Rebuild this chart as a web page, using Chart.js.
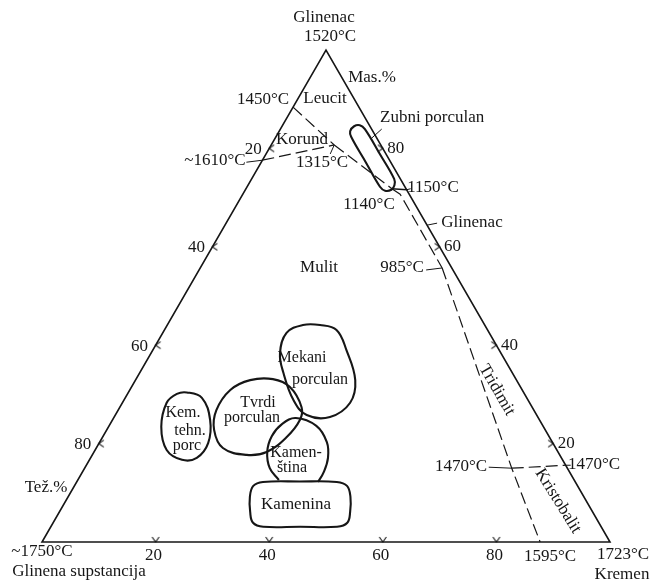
<!DOCTYPE html>
<html>
<head>
<meta charset="utf-8">
<script src="https://cdn.jsdelivr.net/npm/chart.js@4.4.0/dist/chart.umd.min.js"></script>
<style>
  html, body { margin: 0; padding: 0; background: #fff; }
  canvas { display: block; }
</style>
</head>
<body>
<canvas id="diagram" width="654" height="584"></canvas>
<script>
// every point is a composition [Kremen %, Glinenac %]; the rest is glinena supstancija
const tickValues = [20, 40, 60, 80];

const triangle = [[0, 0], [100, 0], [0, 100]];

const p1450 = [0, 88.4];
const p1610 = [0, 77.6];
const p1315 = [11.1, 80.7];
const p1140 = [25.7, 71.8];
const p1150 = [28.4, 71.6];
const pBend = [27.7, 70.7];
const p985 = [42.6, 55.7];
const p1470a = [75.2, 15.0];
const p1470b = [84.4, 15.6];
const p1595 = [87.7, 0];

const leucitMulit = [p1450, p1315];
const korundMulit = [p1610, p1315];
const mulitGlinenac = [p1315, p1140];
const glinenacEdge = [p1140, p1150];
const glinenacTridimit = [p1140, pBend, p985];
const mulitSilica = [p985, p1470a, p1595];
const tridimitKristobalit = [p1470a, p1470b];

const zubniPorculan = [[12.7, 84.5], [13.6, 84.7], [14.9, 83.9], [20.0, 78.9], [25.1, 73.8], [25.8, 72.5],
  [25.7, 71.6], [24.7, 71.4], [23.4, 72.2], [18.4, 77.2], [13.3, 82.3], [12.5, 83.5]];
const mekaniPorculan = [[26.9, 44.1], [30.3, 43.1], [34.1, 39.0], [38.7, 32.9], [40.1, 28.3], [38.0, 25.4],
  [33.7, 25.8], [29.8, 28.9], [25.3, 34.4], [22.7, 38.4], [21.8, 42.5], [23.9, 44.1]];
const tvrdiPorculan = [[20.2, 32.9], [24.1, 33.1], [27.9, 31.5], [32.0, 27.4], [33.0, 24.8], [32.4, 21.3],
  [30.4, 18.3], [27.2, 17.7], [22.3, 19.1], [18.9, 22.8], [17.3, 26.8], [17.7, 30.9]];
const kemTehnPorc = [[10.3, 30.4], [13.5, 29.3], [17.2, 24.8], [19.2, 20.1], [18.7, 17.1], [16.3, 16.7],
  [12.6, 18.7], [9.3, 23.4], [7.8, 28.3], [8.7, 30.1]];
const kamenstina = [[35.4, 12.6], [32.6, 15.0], [30.5, 18.3], [29.7, 21.5], [30.3, 24.0], [32.1, 25.2],
  [36.5, 23.6], [40.0, 20.3], [41.8, 17.1], [42.5, 14.2], [42.5, 12.2]];
const kamenina = [[32.8, 12.2], [39.2, 12.3], [45.8, 12.2], [48.0, 11.4], [49.7, 9.2], [51.2, 6.1], [51.8, 3.9],
  [50.4, 3.1], [43.9, 3.1], [37.4, 3.1], [35.2, 3.9], [33.6, 6.1], [32.0, 9.2], [31.5, 11.4]];

const ink = '#161616';
const serif = '"Liberation Serif", "Times New Roman", serif';

// ternary -> chart units (x across the base, y = Glinenac %)
const toXY = ([k, g]) => ({ x: k + g / 2, y: g });

function edgeLine(points, closed) {
  return { data: points.map(toXY), borderColor: ink, borderWidth: 1.6, pointRadius: 0, tension: 0, closed: closed };
}
function dashed(points) {
  return { data: points.map(toXY), borderColor: ink, borderWidth: 1.2, borderDash: [12, 5], pointRadius: 0, tension: 0 };
}
function region(points, closed) {
  return { data: points.map(toXY), borderColor: ink, borderWidth: 2.1, pointRadius: 0, tension: 0.4, closed: closed };
}

function chevron() {
  const c = document.createElement('canvas');
  c.width = 10; c.height = 12;
  const g = c.getContext('2d');
  g.strokeStyle = ink; g.lineWidth = 1.1;
  g.beginPath(); g.moveTo(1.5, 1); g.lineTo(5, 6); g.lineTo(8.5, 1); g.stroke();
  return c;
}
const tickMark = chevron();
function ticks(points, rotation) {
  return { data: points.map(toXY), showLine: false, pointStyle: tickMark, pointRadius: 5, rotation: rotation };
}

// labels: [text, x, y, rotation, size, align]
const texts = [
  ['Glinenac', 324, 18], ['1520°C', 330, 37], ['Mas.%', 372, 78],
  ['1450°C', 263, 100], ['Leucit', 325, 99], ['Korund', 302, 140],
  ['~1610°C', 215, 161], ['1315°C', 322, 163],
  ['Zubni porculan', 380, 118, 0, 17, 'left'],
  ['1150°C', 433, 188], ['1140°C', 369, 205], ['Glinenac', 472, 223],
  ['985°C', 402, 268], ['Mulit', 319, 268],
  ['Tridimit', 497, 390, 60], ['1470°C', 461, 467], ['1470°C', 594, 465],
  ['Kristobalit', 558, 501, 58],
  ['Mekani', 302, 358, 0, 16], ['porculan', 320, 380, 0, 16],
  ['Tvrdi', 258, 403, 0, 16], ['porculan', 252, 418, 0, 16],
  ['Kem.', 183, 413, 0, 16], ['tehn.', 190, 431, 0, 16], ['porc', 187, 446, 0, 16],
  ['Kamen-', 296, 453, 0, 16], ['ština', 292, 468, 0, 16],
  ['Kamenina', 296, 505],
  ['Tež.%', 46, 488],
  ['~1750°C', 42, 552], ['Glinena supstancija', 79, 572],
  ['1595°C', 550, 557], ['1723°C', 623, 555], ['Kremen', 622, 575]
];

// short leader lines: [anchor composition, dx, dy] in pixels
const leaders = [
  [p1610, -16, 2], [p1315, -4, 9], [p1150, 4, -1], [p985, -16, 2],
  [p1470a, -23, -1], [p1470b, 5, 0], [[35.6, 64.4], 10, -2], [[17.0, 82.1], 10, -9]
];

const closedLoop = {
  id: 'closedLoop',
  afterDatasetsUpdate(chart) {
    chart.data.datasets.forEach((ds, i) => {
      if (!ds.closed) return;
      const line = chart.getDatasetMeta(i).dataset;
      line._loop = true;
      line._fullLoop = true;
      line._pointsUpdated = false;
      delete line._segments;
      delete line._path;
    });
  }
};

const annotations = {
  id: 'annotations',
  afterDatasetsDraw(chart) {
    const { ctx, scales: { x, y } } = chart;
    const px = p => { const q = toXY(p); return [x.getPixelForValue(q.x), y.getPixelForValue(q.y)]; };
    ctx.save();
    ctx.strokeStyle = ink;
    ctx.fillStyle = ink;
    ctx.lineWidth = 1;
    leaders.forEach(([pt, dx, dy]) => {
      const [a, b] = px(pt);
      ctx.beginPath(); ctx.moveTo(a, b); ctx.lineTo(a + dx, b + dy); ctx.stroke();
    });
    ctx.textBaseline = 'middle';
    const write = (t, a, b, rot, size, align) => {
      ctx.save();
      ctx.font = (size || 17) + 'px ' + serif;
      ctx.textAlign = align || 'center';
      ctx.translate(a, b);
      if (rot) ctx.rotate(rot * Math.PI / 180);
      ctx.fillText(t, 0, 0);
      ctx.restore();
    };
    tickValues.forEach(v => {
      let [a, b] = px([v, 0]);
      write(String(v), a - 2, b + 14);
      [a, b] = px([0, 100 - v]);
      write(String(v), a - 16, b + 1);
      [a, b] = px([100 - v, v]);
      write(String(v), a + 13, b);
    });
    texts.forEach(t => write(...t));
    ctx.restore();
  }
};

new Chart(document.getElementById('diagram'), {
  type: 'line',
  data: {
    datasets: [
      edgeLine(triangle, true),
      dashed(leucitMulit), dashed(korundMulit), dashed(mulitGlinenac),
      edgeLine(glinenacEdge, false), dashed(glinenacTridimit),
      dashed(mulitSilica), dashed(tridimitKristobalit),
      region(zubniPorculan, true), region(mekaniPorculan, true), region(tvrdiPorculan, true),
      region(kemTehnPorc, true), region(kamenstina, false), region(kamenina, true),
      ticks(tickValues.map(v => [v, 0]), 0),
      ticks(tickValues.map(v => [0, 100 - v]), 90),
      ticks(tickValues.map(v => [100 - v, v]), -90)
    ]
  },
  options: {
    responsive: false,
    animation: false,
    layout: { padding: { left: 42, right: 44, top: 50, bottom: 42 } },
    datasets: { line: { clip: false, fill: false } },
    scales: {
      x: { type: 'linear', min: 0, max: 100, display: false },
      y: { type: 'linear', min: 0, max: 100, display: false }
    },
    plugins: { legend: { display: false }, tooltip: { enabled: false } },
    events: []
  },
  plugins: [closedLoop, annotations]
});
</script>
</body>
</html>
